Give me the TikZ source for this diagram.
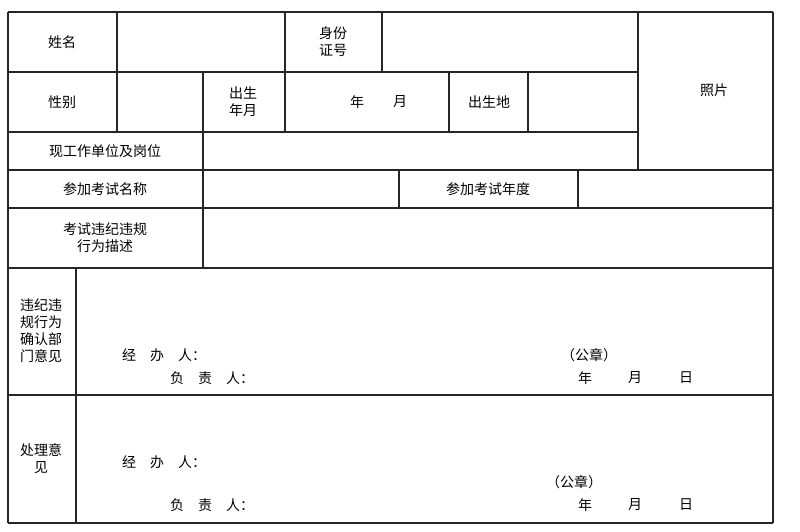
\documentclass[tikz,border=0pt]{standalone}
\usepackage{fontspec}
\setmainfont{Noto Sans CJK SC}
\begin{document}
\begin{tikzpicture}[x=1pt,y=-1pt,
  grid/.style={draw=black!85,line width=1.3pt},
  lbl/.style={font=\fontsize{14}{17}\selectfont,align=center,inner sep=0pt}]
\useasboundingbox (0,0) rectangle (800,532);
% horizontals
\draw[grid] (8,12) -- (773,12);
\draw[grid] (8,72) -- (638,72);
\draw[grid] (8,132) -- (638,132);
\draw[grid] (8,170) -- (773,170);
\draw[grid] (8,208) -- (773,208);
\draw[grid] (8,268) -- (773,268);
\draw[grid] (8,395) -- (773,395);
\draw[grid] (8,523) -- (773,523);
% outer verticals
\draw[grid] (8,12) -- (8,523);
\draw[grid] (773,12) -- (773,523);
\draw[grid] (638,12) -- (638,170);
% row1
\foreach \x in {117,285,382} \draw[grid] (\x,12) -- (\x,72);
% row2
\foreach \x in {117,203,285,449,528} \draw[grid] (\x,72) -- (\x,132);
% row3
\draw[grid] (203,132) -- (203,170);
% row4
\foreach \x in {203,399,578} \draw[grid] (\x,170) -- (\x,208);
% row5
\draw[grid] (203,208) -- (203,268);
% rows 6-7
\draw[grid] (76,268) -- (76,523);
% texts
\node[lbl] (t1) at (62,42) {姓名};
\node[lbl] (t2) at (333,42) {身份\\证号};
\node[lbl] (t3) at (62,102) {性别};
\node[lbl] (t4) at (243,102) {出生\\年月};
\node[lbl] (t5) at (357,102) {年};
\node[lbl] (t6) at (400,102) {月};
\node[lbl] (t7) at (489,102) {出生地};
\node[lbl] (t8) at (714,90) {照片};
\node[lbl] (t9) at (105,151) {现工作单位及岗位};
\node[lbl] (t10) at (105,189) {参加考试名称};
\node[lbl] (t11) at (488,189) {参加考试年度};
\node[lbl] (t12) at (105,238) {考试违纪违规\\行为描述};
\node[lbl] (t13) at (41,331) {违纪违\\规行为\\确认部\\门意见};
\node[lbl,anchor=west] (t14) at (122,355) {经\hspace{1em}办\hspace{1em}人：};
\node[lbl,anchor=west] (t15) at (170,378) {负\hspace{1em}责\hspace{1em}人：};
\node[lbl] (t16) at (589,355) {（公章）};
\node[lbl] (t17) at (585,378) {年};
\node[lbl] (t18) at (635,378) {月};
\node[lbl] (t19) at (686,378) {日};
\node[lbl] (t20) at (41,459) {处理意\\见};
\node[lbl,anchor=west] (t21) at (122,462) {经\hspace{1em}办\hspace{1em}人：};
\node[lbl,anchor=west] (t22) at (170,505) {负\hspace{1em}责\hspace{1em}人：};
\node[lbl] (t23) at (574,482) {（公章）};
\node[lbl] (t24) at (585,505) {年};
\node[lbl] (t25) at (635,505) {月};
\node[lbl] (t26) at (686,505) {日};
\end{tikzpicture}
\end{document}
